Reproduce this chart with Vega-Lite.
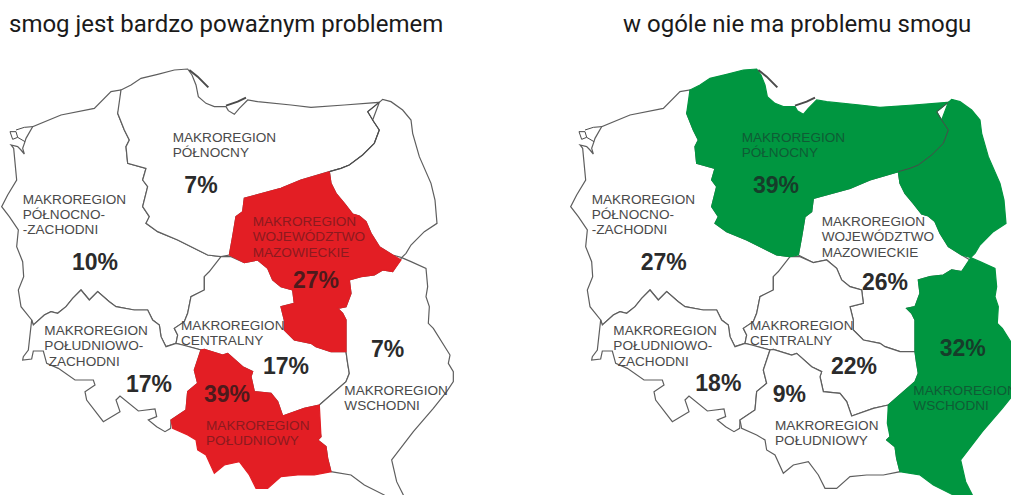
{
"$schema":"https://vega.github.io/schema/vega-lite/v6.json",
"padding":0,"background":"white","spacing":0,"bounds":"flush",
"config":{"view":{"stroke":null}},
"datasets":{
"regions":[
{"region":"NW","serious":10,"none":27,"geo":{"type":"Polygon","coordinates":[[[30,195],[38,205],[47,300],[20,345],[2,380],[25,410],[52,450],[47,500],[65,545],[68,590],[52,630],[60,680],[92,720],[97,735],[130,705],[150,695],[170,700],[195,680],[215,655],[240,630],[265,660],[290,635],[325,665],[345,680],[400,690],[440,690],[455,720],[475,735],[480,770],[495,800],[525,790],[530,765],[520,745],[550,725],[560,700],[570,650],[610,630],[610,590],[625,575],[655,560],[660,530],[620,525],[590,510],[530,480],[470,455],[435,430],[445,410],[425,380],[440,320],[425,300],[435,265],[380,250],[375,200],[385,180],[370,150],[350,100],[365,60],[360,30],[330,35],[280,85],[180,105],[95,140],[75,175],[72,185],[65,205],[70,222],[60,210],[50,200],[38,190]]]}},
{"region":"N","serious":7,"none":39,"geo":{"type":"Polygon","coordinates":[[[360,30],[390,15],[420,-5],[470,-17],[520,-30],[560,-33],[573,-15],[585,15],[592,50],[615,70],[640,80],[675,80],[682,92],[700,103],[715,85],[740,60],[770,65],[870,75],[930,82],[1030,75],[1135,67],[1100,95],[1115,120],[1135,150],[1120,190],[1085,225],[1045,255],[1020,265],[985,275],[900,300],[840,325],[730,355],[725,395],[705,410],[695,470],[685,525],[660,530],[620,525],[590,510],[530,480],[470,455],[435,430],[445,410],[425,380],[440,320],[425,300],[435,265],[380,250],[375,200],[385,180],[370,150],[350,100],[365,60]]]}},
{"region":"MAZ","serious":27,"none":26,"geo":{"type":"Polygon","coordinates":[[[685,525],[695,470],[705,410],[725,395],[730,355],[840,325],[900,300],[985,275],[990,310],[1005,340],[1030,370],[1055,402],[1075,408],[1095,425],[1110,460],[1135,500],[1175,525],[1200,540],[1175,575],[1145,570],[1120,585],[1080,590],[1045,600],[1050,640],[1035,680],[1010,685],[1025,700],[1035,720],[1035,815],[990,815],[945,800],[930,790],[880,780],[850,750],[850,720],[840,680],[880,670],[875,630],[840,620],[815,600],[800,565],[770,540],[730,548],[690,530]]]}},
{"region":"C","serious":17,"none":22,"geo":{"type":"Polygon","coordinates":[[[660,530],[690,530],[730,548],[770,540],[800,565],[815,600],[840,620],[875,630],[880,670],[840,680],[850,720],[850,750],[880,780],[930,790],[945,800],[990,815],[1035,815],[1040,850],[1045,880],[1035,905],[955,975],[910,985],[845,1008],[830,965],[810,940],[760,935],[750,890],[755,875],[725,860],[680,820],[665,825],[610,808],[600,810],[545,795],[525,790],[530,765],[520,745],[550,725],[560,700],[570,650],[610,630],[610,590],[625,575],[655,560]]]}},
{"region":"SW","serious":17,"none":18,"geo":{"type":"Polygon","coordinates":[[[92,720],[97,735],[130,705],[150,695],[170,700],[195,680],[215,655],[240,630],[265,660],[290,635],[325,665],[345,680],[400,690],[440,690],[455,720],[475,735],[480,770],[495,800],[525,790],[545,795],[600,810],[595,825],[580,870],[590,910],[560,935],[555,990],[510,1020],[509,1045],[492,1055],[467,1040],[442,1020],[467,1010],[462,987],[412,993],[357,948],[345,960],[357,995],[332,1010],[307,1025],[257,960],[252,935],[282,915],[277,900],[222,900],[172,865],[137,850],[127,813],[97,813],[92,837],[65,840],[67,830],[82,810],[97,740]]]}},
{"region":"S","serious":39,"none":9,"geo":{"type":"Polygon","coordinates":[[[955,975],[910,985],[845,1008],[830,965],[810,940],[760,935],[750,890],[755,875],[725,860],[680,820],[665,825],[610,808],[600,810],[595,825],[580,870],[590,910],[560,935],[555,990],[510,1020],[515,1045],[560,1065],[585,1080],[590,1110],[615,1125],[640,1180],[670,1155],[715,1145],[745,1185],[765,1225],[800,1225],[840,1190],[890,1185],[940,1185],[990,1175],[980,1135],[975,1100],[950,1080],[960,1070],[952,1030]]]}},
{"region":"E","serious":7,"none":32,"geo":{"type":"MultiPolygon","coordinates":[[[[1135,67],[1145,58],[1170,65],[1205,90],[1230,120],[1235,160],[1255,230],[1290,310],[1302,360],[1308,430],[1270,455],[1230,495],[1215,520],[1202,533],[1175,525],[1135,500],[1110,460],[1095,425],[1075,408],[1055,402],[1030,370],[1005,340],[990,310],[985,275],[1020,265],[1045,255],[1085,225],[1120,190],[1135,150],[1115,120],[1100,95]]],[[[1202,533],[1230,545],[1275,565],[1280,620],[1275,650],[1285,680],[1282,730],[1297,745],[1347,825],[1342,850],[1357,875],[1357,905],[1337,935],[1297,985],[1237,1055],[1172,1140],[1187,1205],[1207,1245],[1210,1275],[1150,1275],[1150,1245],[1090,1215],[1050,1185],[990,1175],[980,1135],[975,1100],[950,1080],[960,1070],[952,1030],[955,975],[1035,905],[1045,880],[1040,850],[1035,815],[1035,720],[1025,700],[1010,685],[1035,680],[1050,640],[1045,600],[1080,590],[1120,585],[1145,570],[1175,575],[1200,540]]]]}}
],
"lines":[
{"name":"border","weight":1,"geo":{"type":"LineString","coordinates":[[1135,67],[1100,95],[1115,120],[1135,150],[1120,190],[1085,225],[1045,255],[1020,265],[985,275]]}},
{"name":"hel","weight":2,"geo":{"type":"LineString","coordinates":[[565,-30],[590,-10],[622,22]]}},
{"name":"spit","weight":2,"geo":{"type":"LineString","coordinates":[[675,77],[710,65],[735,53]]}},
{"name":"lagoon","weight":1,"geo":{"type":"MultiLineString","coordinates":[[[27,155],[45,155],[50,172],[35,178],[27,155]],[[45,150],[70,142],[95,140]],[[72,185],[50,172]]]}}
],
"labels":[
{"region":"N","text":"MAKROREGION","lon":515,"lat":186},
{"region":"N","text":"PÓŁNOCNY","lon":515,"lat":232},
{"region":"NW","text":"MAKROREGION","lon":65,"lat":371},
{"region":"NW","text":"PÓŁNOCNO-","lon":65,"lat":417},
{"region":"NW","text":"-ZACHODNI","lon":65,"lat":463},
{"region":"MAZ","text":"MAKROREGION","lon":755,"lat":437},
{"region":"MAZ","text":"WOJEWÓDZTWO","lon":755,"lat":484},
{"region":"MAZ","text":"MAZOWIECKIE","lon":755,"lat":530},
{"region":"SW","text":"MAKROREGION","lon":130,"lat":765},
{"region":"SW","text":"POŁUDNIOWO-","lon":130,"lat":811},
{"region":"SW","text":"ZACHODNI","lon":143,"lat":857},
{"region":"C","text":"MAKROREGION","lon":540,"lat":750},
{"region":"C","text":"CENTRALNY","lon":540,"lat":795},
{"region":"S","text":"MAKROREGION","lon":615,"lat":1050},
{"region":"S","text":"POŁUDNIOWY","lon":615,"lat":1095},
{"region":"E","text":"MAKROREGION","lon":1030,"lat":946},
{"region":"E","text":"WSCHODNI","lon":1030,"lat":991}
],
"shares":[
{"panel":"serious","region":"N","value":7,"lon":600,"lat":340},
{"panel":"serious","region":"NW","value":10,"lon":282,"lat":571},
{"panel":"serious","region":"MAZ","value":27,"lon":945,"lat":625},
{"panel":"serious","region":"SW","value":17,"lon":444,"lat":935},
{"panel":"serious","region":"C","value":17,"lon":855,"lat":883},
{"panel":"serious","region":"S","value":39,"lon":678,"lat":965},
{"panel":"serious","region":"E","value":7,"lon":1160,"lat":830},
{"panel":"none","region":"N","value":39,"lon":618,"lat":340},
{"panel":"none","region":"NW","value":27,"lon":281,"lat":570},
{"panel":"none","region":"MAZ","value":26,"lon":945,"lat":630},
{"panel":"none","region":"SW","value":18,"lon":445,"lat":933},
{"panel":"none","region":"C","value":22,"lon":852,"lat":882},
{"panel":"none","region":"S","value":9,"lon":658,"lat":966},
{"panel":"none","region":"E","value":32,"lon":1178,"lat":828}
],
"heads":[
{"panel":"serious","text":"smog jest bardzo poważnym problemem","lon":24,"lat":-144},
{"panel":"none","text":"w ogóle nie ma problemu smogu","lon":159,"lat":-144}
]
},
"hconcat":[
{"width":569,"height":495,
"projection":{"type":"identity","scale":0.33333,"translate":[1,80]},
"layer":[
{"data":{"name":"regions"},"transform":[{"filter":"datum.serious<27"}],"mark":{"type":"geoshape","fill":"white","stroke":"#5e5e5e","strokeWidth":1.2,"clip":true},"encoding":{"shape":{"field":"geo","type":"geojson"}}},
{"data":{"name":"regions"},"transform":[{"filter":"datum.serious>=27"}],"mark":{"type":"geoshape","fill":"#e31e24","stroke":"#e31e24","strokeWidth":1.2,"clip":true},"encoding":{"shape":{"field":"geo","type":"geojson"}}},
{"data":{"name":"lines"},"mark":{"type":"geoshape","filled":false,"fill":null,"stroke":"#4a4a4a","clip":true},"encoding":{"shape":{"field":"geo","type":"geojson"},"strokeWidth":{"field":"weight","type":"quantitative","scale":null}}},
{"data":{"name":"labels"},"transform":[{"lookup":"region","from":{"data":{"name":"regions"},"key":"region","fields":["serious"]}}],"mark":{"type":"text","align":"left","baseline":"alphabetic","font":"Liberation Sans","fontSize":13.6,"clip":true},"encoding":{"longitude":{"field":"lon","type":"quantitative"},"latitude":{"field":"lat","type":"quantitative"},"text":{"field":"text","type":"nominal"},"color":{"condition":{"test":"datum.serious>=27","value":"#8c1a1f"},"value":"#4a4a4a"}}},
{"data":{"name":"shares"},"transform":[{"filter":"datum.panel==='serious'"},{"calculate":"datum.value+'%'","as":"pct"}],"mark":{"type":"text","align":"center","baseline":"alphabetic","font":"Liberation Sans","fontWeight":"bold","fontSize":23,"clip":true},"encoding":{"longitude":{"field":"lon","type":"quantitative"},"latitude":{"field":"lat","type":"quantitative"},"text":{"field":"pct","type":"nominal"},"color":{"condition":{"test":"datum.value>=27","value":"#4d1a1c"},"value":"#2b2b2b"}}},
{"data":{"name":"heads"},"transform":[{"filter":"datum.panel==='serious'"}],"mark":{"type":"text","align":"left","baseline":"alphabetic","font":"Roboto","fontSize":24,"color":"#1a1a1a"},"encoding":{"longitude":{"field":"lon","type":"quantitative"},"latitude":{"field":"lat","type":"quantitative"},"text":{"field":"text","type":"nominal"}}}
]},
{"width":442,"height":495,
"projection":{"type":"identity","scale":0.33333,"translate":[1,80]},
"layer":[
{"data":{"name":"regions"},"transform":[{"filter":"datum.none<32"}],"mark":{"type":"geoshape","fill":"white","stroke":"#5e5e5e","strokeWidth":1.2,"clip":true},"encoding":{"shape":{"field":"geo","type":"geojson"}}},
{"data":{"name":"regions"},"transform":[{"filter":"datum.none>=32"}],"mark":{"type":"geoshape","fill":"#009640","stroke":"#009640","strokeWidth":1.2,"clip":true},"encoding":{"shape":{"field":"geo","type":"geojson"}}},
{"data":{"name":"lines"},"mark":{"type":"geoshape","filled":false,"fill":null,"stroke":"#4a4a4a","clip":true},"encoding":{"shape":{"field":"geo","type":"geojson"},"strokeWidth":{"field":"weight","type":"quantitative","scale":null}}},
{"data":{"name":"labels"},"transform":[{"lookup":"region","from":{"data":{"name":"regions"},"key":"region","fields":["none"]}}],"mark":{"type":"text","align":"left","baseline":"alphabetic","font":"Liberation Sans","fontSize":13.6,"clip":true},"encoding":{"longitude":{"field":"lon","type":"quantitative"},"latitude":{"field":"lat","type":"quantitative"},"text":{"field":"text","type":"nominal"},"color":{"condition":{"test":"datum.none>=32","value":"#0f5c35"},"value":"#4a4a4a"}}},
{"data":{"name":"shares"},"transform":[{"filter":"datum.panel==='none'"},{"calculate":"datum.value+'%'","as":"pct"}],"mark":{"type":"text","align":"center","baseline":"alphabetic","font":"Liberation Sans","fontWeight":"bold","fontSize":23,"clip":true},"encoding":{"longitude":{"field":"lon","type":"quantitative"},"latitude":{"field":"lat","type":"quantitative"},"text":{"field":"pct","type":"nominal"},"color":{"condition":{"test":"datum.value>=32 || datum.region==='N'","value":"#163d2a"},"value":"#2b2b2b"}}},
{"data":{"name":"heads"},"transform":[{"filter":"datum.panel==='none'"}],"mark":{"type":"text","align":"left","baseline":"alphabetic","font":"Roboto","fontSize":24,"color":"#1a1a1a"},"encoding":{"longitude":{"field":"lon","type":"quantitative"},"latitude":{"field":"lat","type":"quantitative"},"text":{"field":"text","type":"nominal"}}}
]}
]
}
